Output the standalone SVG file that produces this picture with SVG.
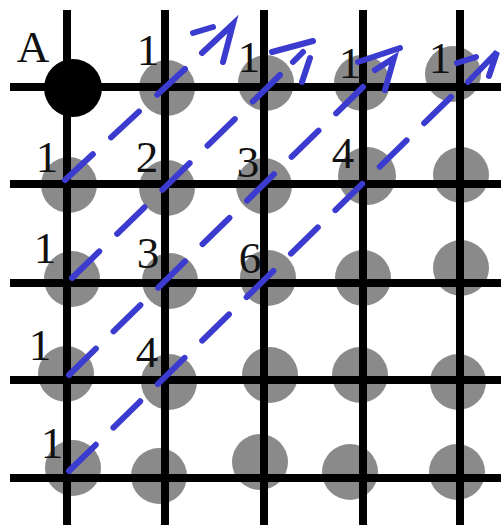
<svg xmlns="http://www.w3.org/2000/svg" width="501" height="525" viewBox="0 0 501 525">
<style>
.dot{fill:#8a8a8a}
.lbl{font-family:"Liberation Serif","Times New Roman",serif;font-size:45px;fill:#111;text-anchor:middle}
.grid line{stroke:#000;stroke-width:8}
.arr{stroke:#3b3bd0;stroke-width:6;stroke-linecap:round;fill:none}
.dash{stroke-dasharray:38 25}
</style>
<rect width="501" height="525" fill="#fff"/>
<g id="n-1-0"><circle class="dot" cx="167" cy="88" r="28"/><text class="lbl" x="148" y="65">1</text></g>
<g id="n-2-0"><circle class="dot" cx="266" cy="83" r="28"/><text class="lbl" x="249" y="72">1</text></g>
<g id="n-3-0"><circle class="dot" cx="362" cy="83" r="28"/><text class="lbl" x="350" y="78">1</text></g>
<g id="n-4-0"><circle class="dot" cx="453" cy="74" r="28"/><text class="lbl" x="440" y="73">1</text></g>
<g id="n-0-1"><circle class="dot" cx="69" cy="185" r="28"/><text class="lbl" x="47" y="172">1</text></g>
<g id="n-1-1"><circle class="dot" cx="167" cy="188" r="28"/><text class="lbl" x="147" y="172">2</text></g>
<g id="n-2-1"><circle class="dot" cx="264" cy="186" r="28"/><text class="lbl" x="248" y="177">3</text></g>
<g id="n-3-1"><circle class="dot" cx="367" cy="176" r="29"/><text class="lbl" x="343" y="168">4</text></g>
<g id="n-4-1"><circle class="dot" cx="461" cy="175" r="28"/></g>
<g id="n-0-2"><circle class="dot" cx="72" cy="279" r="28"/><text class="lbl" x="45" y="263">1</text></g>
<g id="n-1-2"><circle class="dot" cx="170" cy="281" r="28"/><text class="lbl" x="148" y="268">3</text></g>
<g id="n-2-2"><circle class="dot" cx="268" cy="278" r="28"/><text class="lbl" x="250" y="273">6</text></g>
<g id="n-3-2"><circle class="dot" cx="363" cy="278" r="28"/></g>
<g id="n-4-2"><circle class="dot" cx="461" cy="268" r="28"/></g>
<g id="n-0-3"><circle class="dot" cx="66" cy="374" r="28"/><text class="lbl" x="40" y="360">1</text></g>
<g id="n-1-3"><circle class="dot" cx="169" cy="382" r="28"/><text class="lbl" x="147" y="367">4</text></g>
<g id="n-2-3"><circle class="dot" cx="270" cy="375" r="28"/></g>
<g id="n-3-3"><circle class="dot" cx="360" cy="375" r="28"/></g>
<g id="n-4-3"><circle class="dot" cx="458" cy="382" r="28"/></g>
<g id="n-0-4"><circle class="dot" cx="73" cy="468" r="28"/><text class="lbl" x="52" y="458">1</text></g>
<g id="n-1-4"><circle class="dot" cx="159" cy="476" r="28"/></g>
<g id="n-2-4"><circle class="dot" cx="260" cy="462" r="28"/></g>
<g id="n-3-4"><circle class="dot" cx="350" cy="472" r="28"/></g>
<g id="n-4-4"><circle class="dot" cx="457" cy="472" r="28"/></g>
<g class="grid" id="grid">
<line x1="67" y1="10" x2="67" y2="525"/>
<line x1="165" y1="10" x2="165" y2="525"/>
<line x1="264" y1="10" x2="264" y2="525"/>
<line x1="363" y1="10" x2="363" y2="525"/>
<line x1="460" y1="10" x2="460" y2="525"/>
<line x1="10" y1="87" x2="501" y2="87"/>
<line x1="10" y1="184" x2="501" y2="184"/>
<line x1="10" y1="283" x2="501" y2="283"/>
<line x1="10" y1="380" x2="501" y2="380"/>
<line x1="10" y1="478" x2="501" y2="478"/>
</g>
<g id="n-A"><circle cx="73" cy="88" r="29" fill="#000"/><text class="lbl" x="33" y="62">A</text></g>
<g id="connectors">
<line class="arr dash" x1="65" y1="180" x2="185" y2="69" pathLength="164"/>
<path class="arr" d="M202 53L233 24L223 62M213 27L193 33"/>
<line class="arr dash" x1="72" y1="278" x2="280" y2="75" pathLength="290"/>
<path class="arr" d="M313 41L272 52M293 62L303 52M310 58L302 82"/>
<line class="arr dash" x1="69" y1="375" x2="363" y2="87" pathLength="416"/>
<path class="arr" d="M358 62L400 48M375 70L394 58L385 90"/>
<line class="arr dash" x1="69" y1="471" x2="451" y2="97" pathLength="542"/>
<path class="arr" d="M457 63L476 57M468 82L497 52L489 76"/>
</g>
</svg>
